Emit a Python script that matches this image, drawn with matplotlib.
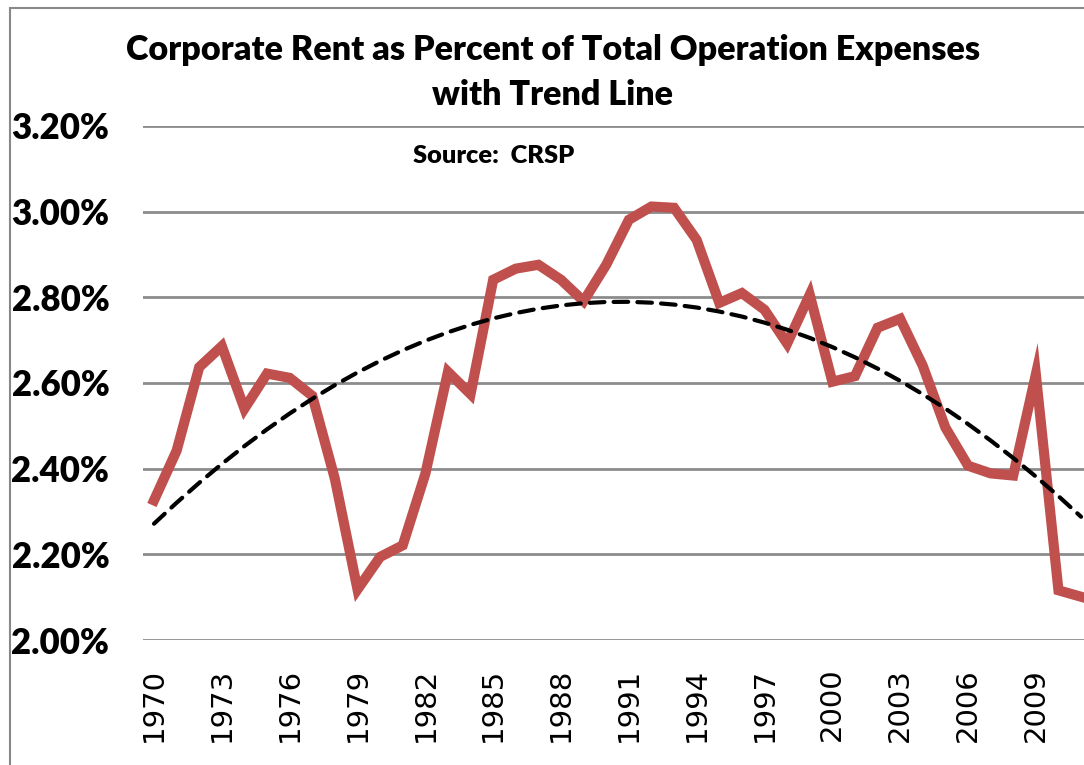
import numpy as np
import matplotlib.pyplot as plt
from matplotlib.patches import Rectangle

# --- data (percent) ---
years = np.arange(1970, 2012)
rent_pct = [2.326, 2.442, 2.637, 2.686, 2.540, 2.622, 2.612, 2.570, 2.376, 2.118,
            2.194, 2.221, 2.388, 2.626, 2.574, 2.841, 2.867, 2.876, 2.841, 2.791,
            2.876, 2.981, 3.012, 3.009, 2.934, 2.787, 2.810, 2.771, 2.692, 2.806,
            2.603, 2.616, 2.729, 2.750, 2.640, 2.496, 2.407, 2.389, 2.384, 2.620,
            2.116, 2.101]
tick_years = list(range(1970, 2010, 3))
y_ticks = [2.0, 2.2, 2.4, 2.6, 2.8, 3.0, 3.2]

# 2nd order polynomial trend, like Excel's trendline
coef = np.polyfit(years, rent_pct, 2)
trend = np.polyval(coef, years)

W, H = 1084, 765
fig = plt.figure(figsize=(W / 100, H / 100), dpi=100)
plt.rcParams['font.family'] = ['Lato', 'DejaVu Sans']

# chart border (cropped at right/bottom)
fig.patches.append(Rectangle((10 / W, -0.05), 1.1, 1.05 - 8 / H, transform=fig.transFigure,
                             fill=False, edgecolor='#888888', lw=1.5))

ax = fig.add_axes([142.7 / W, (H - 640) / H, (W - 142.7) / W, (640 - 126) / H])
ax.plot(years, rent_pct, color='#C0504D', lw=7.3, solid_joinstyle='miter', zorder=3)
ax.plot(years, trend, color='black', lw=3, linestyle=(0, (3.5, 2.2)),
        dash_capstyle='round', zorder=4)

ax.set_xlim(1969.5, 2011.13)
ax.set_ylim(2.0, 3.2)
ax.set_yticks(y_ticks)
ax.set_yticklabels([f'{v:.2f}%' for v in y_ticks], fontsize=25, fontweight='heavy')
ax.set_xticks(tick_years)
ax.set_xticklabels([str(y) for y in tick_years], rotation=90, fontsize=21,
                   family='DejaVu Sans')
ax.tick_params(axis='both', length=0)
ax.tick_params(axis='y', pad=24)
ax.tick_params(axis='x', pad=20)
ax.grid(axis='y', color='#8c8c8c', lw=2)
ax.set_axisbelow(True)
for s in ax.spines.values():
    s.set_visible(False)

fig.text(553 / W, 1 - 50 / H, 'Corporate Rent as Percent of Total Operation Expenses',
         ha='center', va='center', fontsize=24.6, fontweight='heavy')
fig.text(553 / W, 1 - 95 / H, 'with Trend Line',
         ha='center', va='center', fontsize=24.6, fontweight='heavy')
fig.text(494 / W, 1 - 156 / H, 'Source:  CRSP',
         ha='center', va='center', fontsize=18.3, fontweight='heavy')

fig.savefig('out.png', dpi=100)
